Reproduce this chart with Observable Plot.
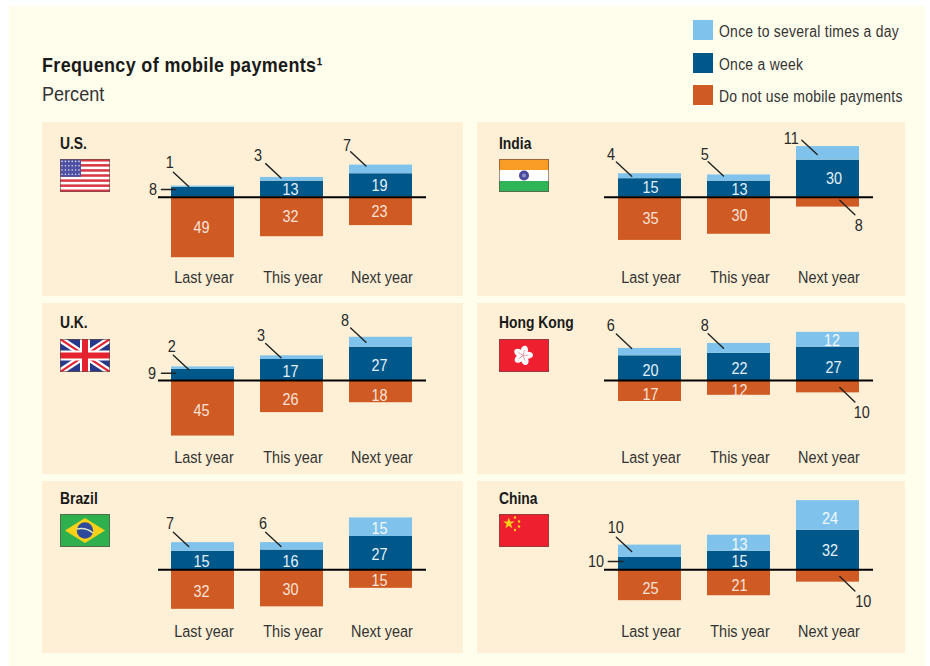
<!DOCTYPE html>
<html>
<head>
<meta charset="utf-8">
<script src="https://cdn.jsdelivr.net/npm/d3@7"></script>
<script src="https://cdn.jsdelivr.net/npm/@observablehq/plot@0.6"></script>
<style>
  html, body { margin: 0; padding: 0; background: #fff; }
  #root { position: relative; width: 930px; height: 666px; overflow: hidden;
          font-family: "Liberation Sans", sans-serif; color: #222; }
  #page { position: absolute; left: 9px; top: 6px; width: 916px; height: 660px; background: #fffdeb; }
  .abs { position: absolute; white-space: nowrap; transform-origin: left center; }
  .plot { position: absolute; }
  .title { left: 42px; top: 52px; font-size: 20.5px; font-weight: 700; letter-spacing: .42px; line-height: 26px; color: #1a1a1a; transform: scaleX(.875); }
  .sub { left: 42px; top: 81px; font-size: 21px; line-height: 26px; color: #333; transform: scaleX(.86); }
  .name { font-size: 16.5px; font-weight: 700; line-height: 20px; color: #1a1a1a; transform: scaleX(.84); }
  .leg { left: 719px; font-size: 16px; line-height: 20px; letter-spacing: .32px; color: #333; transform: scaleX(.87); }
  .sw { left: 692.5px; width: 20px; height: 20px; }
  .flag { position: absolute; width: 50px; height: 33px; }
</style>
</head>
<body>
<div id="root"><div id="page"></div></div>
<script>
// ---- Data ----
const periods = ["Last year", "This year", "Next year"];
const seriesNames = ["Once to several times a day", "Once a week", "Do not use mobile payments"];
const countries = ["U.S.", "India", "U.K.", "Hong Kong", "Brazil", "China"];
const daily = {
  "U.S.": [1, 3, 7], "India": [4, 5, 11], "U.K.": [2, 3, 8],
  "Hong Kong": [6, 8, 12], "Brazil": [7, 6, 15], "China": [10, 13, 24]
};
const weekly = {
  "U.S.": [8, 13, 19], "India": [15, 13, 30], "U.K.": [9, 17, 27],
  "Hong Kong": [20, 22, 27], "Brazil": [15, 16, 27], "China": [10, 15, 32]
};
const nonUsers = {
  "U.S.": [49, 32, 23], "India": [35, 30, 8], "U.K.": [45, 26, 18],
  "Hong Kong": [17, 12, 10], "Brazil": [32, 30, 15], "China": [25, 21, 10]
};

// ---- Style ----
const colors = ["#7fc3ec", "#00588a", "#cf5a24"];
const labelColors = ["#f2f9fe", "#e4f1fa", "#f8e3d8"];
const font = '"Liberation Sans", sans-serif';
const pxPerUnit = 1.235;
const narrow = .85; // condensed look for the chart's text

// ---- Layout ----
const cols = [
  {x: 42, w: 421, ml: 116, mr: 37, side: 0},
  {x: 477, w: 428, ml: 127, mr: 32, side: 1}
];
const rows = [
  {y: 122, h: 174, base: 74.7, mb: 29, nudge: 0, flag: 37},
  {y: 303, h: 171, base: 77, mb: 27, nudge: 2, flag: 36},
  {y: 481, h: 172, base: 88.3, mb: 32, nudge: 1.5, flag: 33}
];
// Values called out by a leader line: series 0 above the stack, series 2 below it.
// [country, period index, series index, tip dx, tip dy, label dx, label dy]
const callouts = [
  ["U.S.", 0, 0, -14.3, .4, -19, -24], ["U.S.", 1, 0, -11, .5, -23, -22], ["U.S.", 2, 0, -15, 1, -19, -21],
  ["U.K.", 0, 0, -14.3, 2.6, -17, -23], ["U.K.", 1, 0, -11, 2, -20, -22.6], ["U.K.", 2, 0, -15, 5, -21, -22],
  ["Brazil", 0, 0, -14.3, 3.9, -18.6, -23], ["Brazil", 1, 0, -11, 3.9, -18, -23],
  ["India", 0, 0, -18.3, 2.5, -20.7, -21.7], ["India", 1, 0, -15.5, 1, -18.7, -21], ["India", 2, 0, -10.8, 8, -26, -16],
  ["Hong Kong", 0, 0, -18.3, 0, -21, -22.4], ["Hong Kong", 1, 0, -15.5, 4.7, -18.7, -22.4],
  ["China", 0, 0, -18.3, 6.4, -16, -24],
  ["India", 2, 2, 11.8, 3, 19, 25], ["Hong Kong", 2, 2, 11.8, 7, 22, 25], ["China", 2, 2, 11.8, 6.7, 23.4, 24.7]
];
// Weekly values beside the first bar: [country, tip dx, height over axis, length, label dx]
const sideTicks = [
  ["U.S.", -27.6, 7.7, 14, -22.3], ["U.K.", -27.6, 7.3, 14, -23.3], ["China", -27, 8.3, 14.7, -27]
];
// Individual label shifts from the bar's middle: "country|period|series": [dx, dy]
const labelNudges = {
  "Hong Kong|2|1": [5, 4], "Hong Kong|2|0": [3.5, 1], "India|2|1": [5.5, -.5],
  "Hong Kong|1|2": [0, 2.6], "Hong Kong|0|2": [0, 3.2], "China|2|0": [1.5, 2.7], "China|2|1": [1.5, 1],
  "China|0|2": [0, 3], "China|1|2": [0, 2.5], "U.K.|1|2": [0, 3], "U.K.|2|2": [0, 4]
};

const flags = {
  "U.S.": `<rect width="50" height="33" fill="#fff"/>` +
    d3.range(7).map(i => `<rect y="${i * 5.08}" width="50" height="2.54" fill="#d83a45"/>`).join("") +
    `<rect width="21" height="17.8" fill="#4f4fa3"/>` +
    d3.range(4).map(r => d3.range(6).map(c => `<circle cx="${2 + c * 3.4}" cy="${2.4 + r * 4.3}" r=".8" fill="#dfe0f2"/>`).join("")).join(""),
  "India": `<rect width="50" height="11" fill="#f99d27"/><rect y="11" width="50" height="11" fill="#fff"/><rect y="22" width="50" height="11" fill="#2fb457"/>
    <circle cx="25" cy="16.5" r="5" fill="#4a4a9c"/><circle cx="25" cy="16.5" r="2" fill="#8f8fca"/>`,
  "U.K.": `<rect width="50" height="33" fill="#27398a"/>
    <path d="M0 0L50 33M50 0L0 33" stroke="#fff" stroke-width="6.5"/>
    <path d="M0 0L50 33M50 0L0 33" stroke="#e5222f" stroke-width="2.2"/>
    <path d="M25 0V33M0 16.5H50" stroke="#fff" stroke-width="10"/>
    <path d="M25 0V33M0 16.5H50" stroke="#e5222f" stroke-width="6"/>`,
  "Hong Kong": `<rect width="50" height="33" fill="#ee2030"/>` +
    d3.range(5).map(i => `<ellipse cx="24" cy="11.5" rx="3.6" ry="5" fill="#fff" transform="rotate(${i * 72 + 15} 24 16.5)"/>`).join("") +
    d3.range(5).map(i => `<path d="M24 16.5L24 11" stroke="#e8808a" stroke-width=".7" transform="rotate(${i * 72 + 15} 24 16.5)"/>`).join(""),
  "Brazil": `<rect width="50" height="33" fill="#2fb04f"/><path d="M25 4L45 16.5L25 29L5 16.5Z" fill="#fcd116"/>
    <circle cx="25" cy="16.5" r="8.2" fill="#2f4a9c"/><path d="M17 15Q26 13 33 19" stroke="#dfe6c8" stroke-width="1.3" fill="none"/>`,
  "China": `<rect width="50" height="33" fill="#ee2030"/>
    <path d="M8.5 3L10.2 8.2L15.6 8.2L11.2 11.4L12.9 16.6L8.5 13.4L4.1 16.6L5.8 11.4L1.4 8.2L6.8 8.2Z" transform="translate(3 1) scale(.8)" fill="#fcd116"/>
    <circle cx="16" cy="3.5" r="1.2" fill="#fcd116"/><circle cx="20" cy="7.5" r="1.2" fill="#fcd116"/>
    <circle cx="20" cy="12.5" r="1.2" fill="#fcd116"/><circle cx="16" cy="16" r="1.2" fill="#fcd116"/>`
};

const root = document.getElementById("root");
function addHtml(cls, text, left, top) {
  const el = document.createElement("div");
  el.className = "abs " + cls;
  el.textContent = text;
  if (left != null) el.style.left = left + "px";
  if (top != null) el.style.top = top + "px";
  root.appendChild(el);
  return el;
}

addHtml("title", "Frequency of mobile payments\u00b9");
addHtml("sub", "Percent");
seriesNames.forEach((s, i) => {
  const top = [20, 52.5, 85][i];
  addHtml("sw", "", null, top).style.background = colors[i];
  addHtml("leg", s, null, top + 2);
});

const line = {draw(ctx, l) { ctx.moveTo(0, 0); ctx.lineTo(0, -l); }};

countries.forEach((country, idx) => {
  const col = cols[idx % 2], row = rows[Math.floor(idx / 2)];
  const values = [daily[country], weekly[country], nonUsers[country]];
  // Long table; weekly stacks first above the axis, daily on top of it.
  const table = [];
  for (const s of [1, 0, 2]) periods.forEach((p, i) => table.push({
    country, period: p, i, s, series: seriesNames[s], value: values[s][i],
    signed: s === 2 ? -values[s][i] : values[s][i]
  }));
  const top = i => values[0][i] + values[1][i];
  const called = new Set(callouts.filter(c => c[0] === country).map(c => c[1] + "|" + c[2]));
  const ticks = sideTicks.filter(t => t[0] === country);

  // In-bar labels, positioned at the middle of each stacked segment
  const labels = table.filter(d => !called.has(d.i + "|" + d.s) && !(ticks.length && d.i === 0 && d.s === 1));
  const mid = d => d.s === 1 ? d.value / 2 : d.s === 0 ? values[1][d.i] + d.value / 2 : -d.value / 2;
  const labelMarks = labels.map(d => {
    const n = labelNudges[`${country}|${d.i}|${d.s}`];
    const baseDx = col.side === 0 ? -1.5 : .5;
    return Plot.text([d], {
      x: "period", y: mid, text: "value", fill: labelColors[d.s],
      fontSize: 17, dx: n ? baseDx + n[0] : baseDx, dy: n ? n[1] : row.nudge
    });
  });

  const leaderMarks = callouts.filter(c => c[0] === country).flatMap(c => {
    const [, i, s, tdx, tdy, ldx, ldy] = c;
    const y = s === 0 ? top(i) : 0;
    const d = {period: periods[i], y, value: values[s][i]};
    return [
      Plot.vector([d], {x: "period", y: "y", dx: tdx, dy: tdy, length: 21, rotate: s === 0 ? -47 : 134,
        anchor: "start", shape: line, stroke: "#222", strokeWidth: 1.4}),
      Plot.text([d], {x: "period", y: "y", text: "value", dx: tdx + ldx, dy: tdy + ldy, fontSize: 17, fill: "#2a2a2a"})
    ];
  });

  const tickMarks = ticks.flatMap(t => {
    const [, tdx, over, len, ldx] = t;
    const d = {period: periods[0], y: over / pxPerUnit, value: weekly[country][0]};
    return [
      Plot.vector([d], {x: "period", y: "y", dx: tdx, length: len, rotate: -90, anchor: "start",
        shape: line, stroke: "#222", strokeWidth: 1.4}),
      Plot.text([d], {x: "period", y: "y", text: "value", dx: tdx + ldx, fontSize: 17, fill: "#2a2a2a"})
    ];
  });

  const innerH = row.h - row.mb;
  const svg = Plot.plot({
    width: col.w, height: row.h,
    marginLeft: col.ml, marginRight: col.mr, marginTop: 0, marginBottom: row.mb,
    style: {background: "#fdf0d6", fontFamily: font, overflow: "visible"},
    x: {type: "band", domain: periods, paddingInner: .288, paddingOuter: .144, axis: null},
    y: {domain: [-(innerH - row.base) / pxPerUnit, row.base / pxPerUnit], axis: null},
    color: {domain: seriesNames, range: colors},
    marks: [
      Plot.barY(table, {x: "period", y: "signed", fill: "series"}),
      Plot.ruleY([0], {stroke: "#000", strokeWidth: 2}),
      Plot.axisX({domain: periods, tickSize: 0, tickPadding: 3, dx: 1, fontSize: 17, fill: "#333", label: null}),
      ...labelMarks,
      ...leaderMarks,
      ...tickMarks
    ]
  });
  svg.classList.add("plot");
  svg.style.left = col.x + "px";
  svg.style.top = row.y + "px";
  // Condense the text horizontally around its own anchor
  svg.querySelectorAll("text").forEach(t => {
    t.setAttribute("transform", ((t.getAttribute("transform") || "") + ` scale(${narrow},1)`).trim());
  });
  root.appendChild(svg);

  const name = addHtml("name", country, col.x + 18 - (col.side ? -3.5 : 0), row.y + [11, 9, 6.5][Math.floor(idx / 2)]);
  name.style.zIndex = 2;
  const f = document.createElementNS("http://www.w3.org/2000/svg", "svg");
  f.setAttribute("viewBox", "0 0 50 33");
  f.setAttribute("class", "flag");
  f.innerHTML = flags[country] + `<rect x=".4" y=".4" width="49.2" height="32.2" fill="none" stroke="#6b4a45" stroke-opacity=".75" stroke-width=".9"/>`;
  f.style.left = (col.x + 18 - (col.side ? -3.5 : 0)) + "px";
  f.style.top = (row.y + row.flag) + "px";
  root.appendChild(f);
});
</script>
</body>
</html>
